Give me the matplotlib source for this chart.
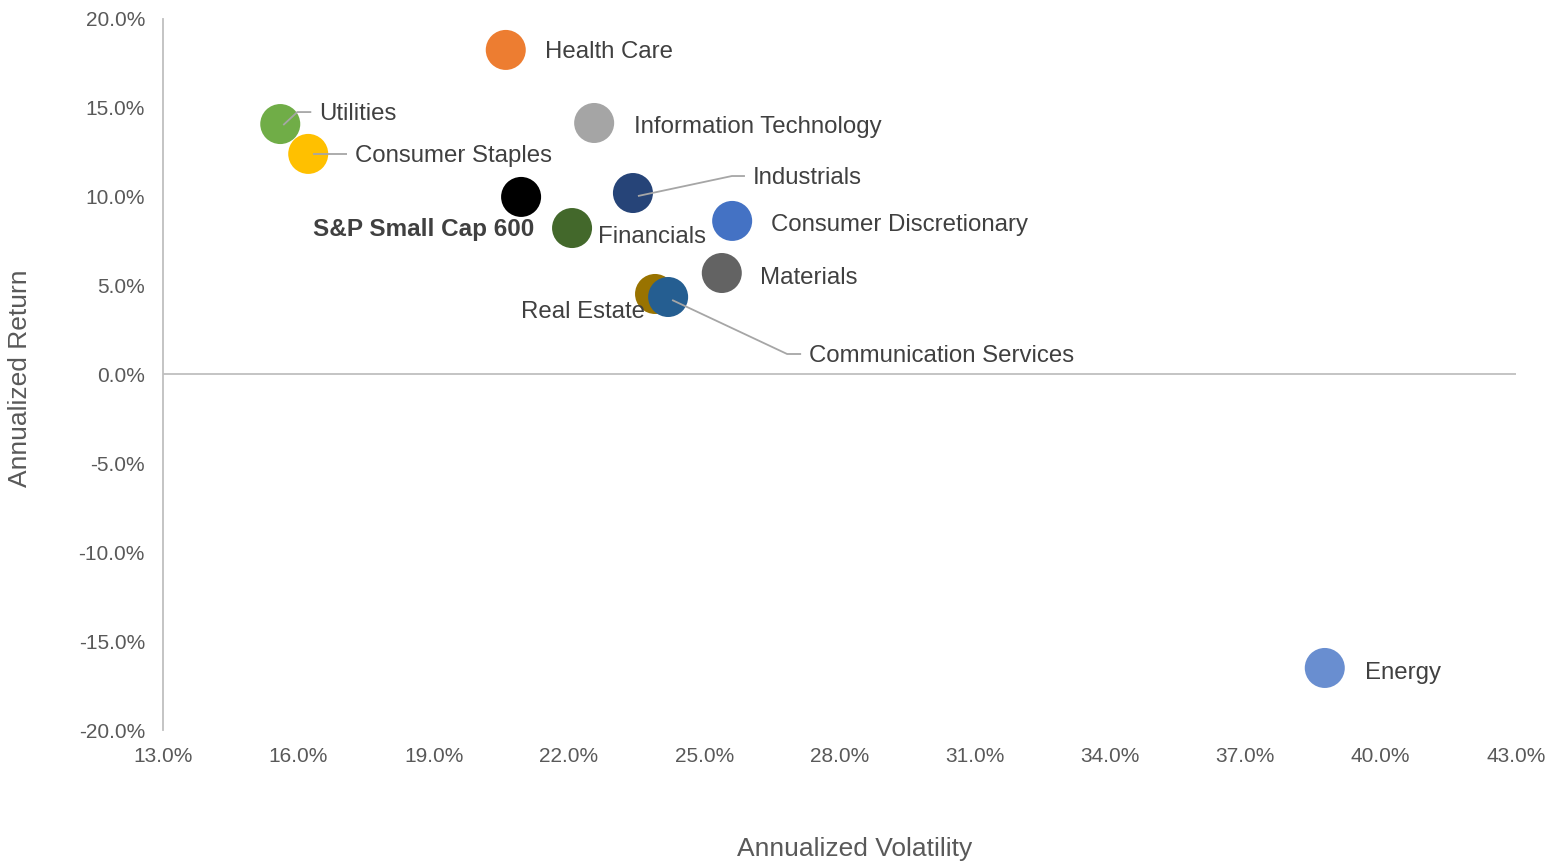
import matplotlib
matplotlib.use("Agg")
import numpy as np
import matplotlib.pyplot as plt
from matplotlib.ticker import FuncFormatter

plt.rcParams['font.family'] = ['Liberation Sans', 'DejaVu Sans']

sectors = ["Health Care", "Utilities", "Consumer Staples", "S&P Small Cap 600",
           "Information Technology", "Industrials", "Financials",
           "Consumer Discretionary", "Materials", "Real Estate",
           "Communication Services", "Energy"]
volatility = [20.6, 15.6, 16.22, 20.94, 22.56, 23.42, 22.07, 25.62, 25.39, 23.91, 24.2, 38.76]
returns = [18.26, 14.09, 12.41, 9.99, 14.15, 10.21, 8.24, 8.64, 5.71, 4.53, 4.36, -16.51]
colors = ["#ED7D31", "#70AD47", "#FFC000", "#000000", "#A5A5A5", "#264478",
          "#43682B", "#4472C4", "#636363", "#997300", "#255E91", "#698ED0"]
x_ticks = [13, 16, 19, 22, 25, 28, 31, 34, 37, 40, 43]
y_ticks = [-20, -15, -10, -5, 0, 5, 10, 15, 20]

# label offsets in pixels (dx, dy up), horizontal alignment, leader elbow (dx, dy) or None
label_offsets = {
    "Health Care": (39, -2, 'left', None),
    "Utilities": (39, 10, 'left', (17, 12)),
    "Consumer Staples": (47, -2, 'left', (22, 0)),
    "S&P Small Cap 600": (13, -33, 'right', None),
    "Information Technology": (40, -4, 'left', None),
    "Industrials": (120, 15, 'left', (99, 17)),
    "Financials": (26, -9, 'left', None),
    "Consumer Discretionary": (39, -4, 'left', None),
    "Materials": (38, -5, 'left', None),
    "Real Estate": (-10, -18, 'right', None),
    "Communication Services": (141, -59, 'left', (119, -57)),
    "Energy": (40, -5, 'left', None),
}

W, H = 1564, 863
fig = plt.figure(figsize=(W / 100, H / 100), dpi=100)
ax = fig.add_axes([163 / W, 1 - 730 / H, (1516 - 163) / W, (730 - 19) / H])

ax.set_xlim(13, 43)
ax.set_ylim(-20, 20)
ax.set_xticks(x_ticks)
ax.set_yticks(y_ticks)
ax.xaxis.set_major_formatter(FuncFormatter(lambda v, p: f"{v:.1f}%"))
ax.yaxis.set_major_formatter(FuncFormatter(lambda v, p: f"{v:.1f}%"))
ax.tick_params(axis='both', length=0, labelsize=15, labelcolor='#595959')
ax.tick_params(axis='x', pad=12)
ax.tick_params(axis='y', pad=13)

for s in ['top', 'right', 'bottom']:
    ax.spines[s].set_visible(False)
ax.spines['left'].set_color('#BFBFBF')
ax.spines['left'].set_linewidth(1.3)
ax.axhline(0, color='#BFBFBF', lw=1.3, zorder=1)

fig.canvas.draw()
to_disp = ax.transData
to_data = ax.transData.inverted()

start_offsets = {
    "Utilities": (3, -1),
    "Consumer Staples": (5, 0),
    "Industrials": (5, -3),
    "Communication Services": (4, -3),
}

line_color = '#A6A6A6'
for name, x, y, c in zip(sectors, volatility, returns, colors):
    dx, dy, ha, elbow = label_offsets[name]
    bold = name == "S&P Small Cap 600"
    ax.scatter([x], [y], s=830, color=c, edgecolors='none', zorder=3)
    px, py = to_disp.transform((x, y))
    if elbow is not None:
        ex, ey = elbow
        sx, sy = start_offsets[name]
        pts_disp = [(px + sx, py + sy), (px + ex, py + ey), (px + dx - 8, py + ey)]
        pts = to_data.transform(pts_disp)
        ax.plot(pts[:, 0], pts[:, 1], color=line_color, lw=1.3, zorder=4,
                solid_capstyle='butt')
    tx, ty = to_data.transform((px + dx, py + dy))
    ax.text(tx, ty, name, ha=ha, va='center', fontsize=17.3 if not bold else 17.5,
            color='#404040', fontweight='bold' if bold else 'normal', zorder=5)

fig.text(855 / W, 1 - 849 / H, "Annualized Volatility", ha='center', va='center',
         fontsize=19, color='#595959')
fig.text(20 / W, 1 - 378 / H, "Annualized Return", ha='center', va='center',
         fontsize=19, color='#595959', rotation=90)

fig.savefig("out.png", dpi=100)
